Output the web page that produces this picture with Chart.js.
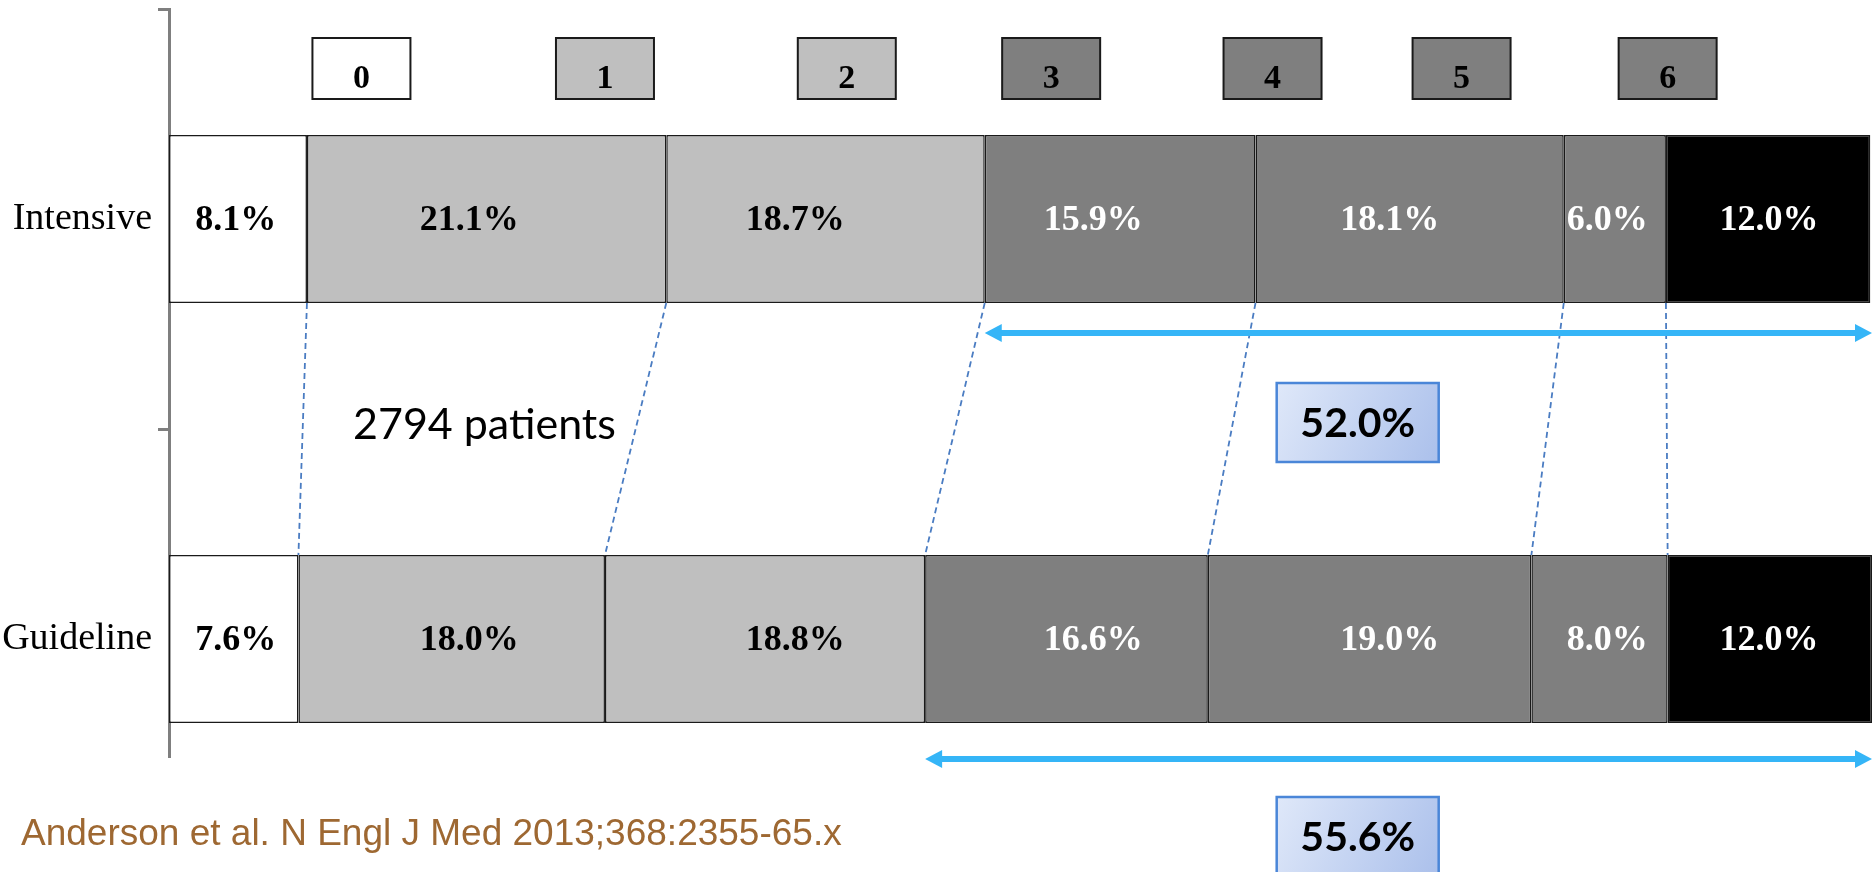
<!DOCTYPE html>
<html lang="en">
<head>
<meta charset="UTF-8">
<title>Intensive vs Guideline</title>
<script src="https://cdn.jsdelivr.net/npm/chart.js"></script>
<style>
  html, body { margin: 0; padding: 0; background: #fff; overflow: hidden; }
  .chart-box { position: relative; width: 1872px; height: 872px; }
</style>
</head>
<body>
<div class="chart-box"><canvas id="stageChart"></canvas></div>
<script>
const groups = ['Intensive', 'Guideline'];
const stages = ['0', '1', '2', '3', '4', '5', '6'];
const intensiveShare = [8.1, 21.1, 18.7, 15.9, 18.1, 6.0, 12.0];
const guidelineShare = [7.6, 18.0, 18.8, 16.6, 19.0, 8.0, 12.0];
const highStages = [3, 4, 5, 6];   // stages summed under the arrows
const patientsNote = '2794 patients';
const sourceNote = 'Anderson et al. N Engl J Med 2013;368:2355-65.x';

// look & layout
const stageFill = ['#ffffff', '#bfbfbf', '#bfbfbf', '#7f7f7f', '#7f7f7f', '#7f7f7f', '#000000'];
const legendFill = ['#ffffff', '#bfbfbf', '#bfbfbf', '#7f7f7f', '#7f7f7f', '#7f7f7f', '#7f7f7f'];
const stageInk = ['#000', '#000', '#000', '#fff', '#fff', '#fff', '#fff'];
const legendAt = [11.3, 25.6, 39.8, 51.8, 64.8, 75.9, 88.0];   // in x-axis units
const noteAt = 69.8;
const serif = '"Liberation Serif", "Times New Roman", serif';
const sans = 'Lato, "Open Sans", sans-serif';
const arrowBlue = '#35b5f7';

const legendBoxes = {
    id: 'legendBoxes',
    afterDatasetsDraw(chart) {
        const { ctx, chartArea, scales: { x } } = chart;
        const w = 98, h = 61, top = chartArea.top + 29;
        ctx.save();
        ctx.font = 'bold 34px ' + serif;
        ctx.textAlign = 'center';
        stages.forEach((s, i) => {
            const cx = x.getPixelForValue(legendAt[i]);
            ctx.fillStyle = legendFill[i];
            ctx.fillRect(cx - w / 2, top, w, h);
            ctx.lineWidth = 2;
            ctx.strokeStyle = '#1a1a1a';
            ctx.strokeRect(cx - w / 2, top, w, h);
            ctx.fillStyle = '#000';
            ctx.fillText(s, cx, top + 50);
        });
        ctx.restore();
    }
};

const segmentLabels = {
    id: 'segmentLabels',
    afterDatasetsDraw(chart) {
        const ctx = chart.ctx;
        ctx.save();
        ctx.font = 'bold 36px ' + serif;
        ctx.textAlign = 'center';
        ctx.textBaseline = 'middle';
        chart.data.datasets.forEach((ds, i) => {
            const bars = chart.getDatasetMeta(i).data;
            // one label column per stage, shared by both rows
            const col = bars.reduce((s, b) => s + (b.x + b.base) / 2, 0) / bars.length;
            bars.forEach((b, j) => {
                ctx.save();
                ctx.beginPath();
                ctx.rect(b.base, b.y - b.height / 2, b.x - b.base, b.height);
                ctx.clip();
                ctx.fillStyle = stageInk[i];
                ctx.fillText(ds.data[j].toFixed(1) + '%', col, b.y + 2);
                ctx.restore();
            });
        });
        ctx.restore();
    }
};

function drawArrow(ctx, x1, x2, y) {
    const head = 17, half = 9;
    ctx.strokeStyle = arrowBlue;
    ctx.fillStyle = arrowBlue;
    ctx.lineWidth = 6;
    ctx.beginPath();
    ctx.moveTo(x1 + head - 2, y);
    ctx.lineTo(x2 - head + 2, y);
    ctx.stroke();
    ctx.beginPath();
    ctx.moveTo(x1, y); ctx.lineTo(x1 + head, y - half); ctx.lineTo(x1 + head, y + half);
    ctx.closePath(); ctx.fill();
    ctx.beginPath();
    ctx.moveTo(x2, y); ctx.lineTo(x2 - head, y - half); ctx.lineTo(x2 - head, y + half);
    ctx.closePath(); ctx.fill();
}

function drawNote(ctx, cx, top, text) {
    const w = 162, h = 79, left = cx - w / 2;
    const g = ctx.createLinearGradient(left, top, left + w, top + h);
    g.addColorStop(0, '#dfe8f9');
    g.addColorStop(1, '#abc0eb');
    ctx.fillStyle = g;
    ctx.fillRect(left, top, w, h);
    ctx.strokeStyle = '#4a86d8';
    ctx.lineWidth = 2.5;
    ctx.strokeRect(left, top, w, h);
    ctx.fillStyle = '#000';
    ctx.font = 'bold 41px ' + sans;
    ctx.textAlign = 'center';
    ctx.textBaseline = 'middle';
    ctx.fillText(text, cx, top + h / 2 + 1);
}

const overlay = {
    id: 'overlay',
    afterDraw(chart) {
        const { ctx, chartArea, scales: { x } } = chart;
        const upper = i => chart.getDatasetMeta(i).data[0];
        const lower = i => chart.getDatasetMeta(i).data[1];
        const upBottom = upper(0).y + upper(0).height / 2;
        const lowTop = lower(0).y - lower(0).height / 2;
        const lowBottom = lower(0).y + lower(0).height / 2;
        const edge = Math.min(chartArea.right, chart.width);

        // dashed links between matching stage boundaries
        ctx.save();
        ctx.strokeStyle = '#4a7cc2';
        ctx.lineWidth = 1.8;
        ctx.setLineDash([6, 4]);
        for (let i = 0; i < stages.length - 1; i++) {
            ctx.beginPath();
            ctx.moveTo(upper(i).x, upBottom);
            ctx.lineTo(lower(i).x, lowTop);
            ctx.stroke();
        }
        ctx.restore();

        // arrows over the high stages, with their summed share
        const first = highStages[0];
        const sumOf = arr => highStages.reduce((s, k) => s + arr[k], 0).toFixed(1) + '%';
        ctx.save();
        drawArrow(ctx, upper(first).base, edge, upBottom + 30);
        drawArrow(ctx, lower(first).base, edge, lowBottom + 36);
        drawNote(ctx, x.getPixelForValue(noteAt), upBottom + 80, sumOf(intensiveShare));
        drawNote(ctx, x.getPixelForValue(noteAt), lowBottom + 74, sumOf(guidelineShare));
        ctx.restore();

        // patients count between the rows
        ctx.save();
        ctx.fillStyle = '#000';
        ctx.font = '43px ' + sans;
        ctx.textAlign = 'left';
        ctx.fillText(patientsNote, chartArea.left + 184, (upBottom + lowTop) / 2 + 10);
        ctx.restore();

        // source line sits on a white strip that hides the axis end
        ctx.save();
        ctx.font = '37px "Liberation Sans", Arial, sans-serif';
        const tw = ctx.measureText(sourceNote).width;
        ctx.fillStyle = '#fff';
        ctx.fillRect(0, lowBottom + 35, tw + 60, chart.height - lowBottom - 35);
        ctx.fillStyle = '#9e6832';
        ctx.textAlign = 'left';
        ctx.fillText(sourceNote, 21, 845);
        ctx.restore();
    }
};

const datasets = stages.map((s, i) => ({
    label: s,
    data: [intensiveShare[i], guidelineShare[i]],
    backgroundColor: stageFill[i],
    borderColor: '#1a1a1a',
    borderWidth: 1.5,
    borderSkipped: false,
    barPercentage: 0.4,
    categoryPercentage: 1.0
}));

new Chart(document.getElementById('stageChart'), {
    type: 'bar',
    data: { labels: groups, datasets },
    plugins: [legendBoxes, segmentLabels, overlay],
    options: {
        indexAxis: 'y',
        responsive: true,
        maintainAspectRatio: false,
        animation: false,
        layout: { padding: { top: 9, bottom: 23, left: 0, right: -3 } },
        plugins: { legend: { display: false }, tooltip: { enabled: false } },
        scales: {
            x: { stacked: true, min: 0, max: 100, display: false },
            y: {
                stacked: true,
                grid: {
                    drawOnChartArea: false,
                    drawTicks: true,
                    tickLength: 11,
                    color: '#7f7f7f',
                    lineWidth: 3,
                    offset: true
                },
                border: { display: true, color: '#7f7f7f', width: 3 },
                ticks: { color: '#000', padding: 6, font: { family: serif, size: 38 } },
                afterFit(scale) {
                    scale.width = 169;
                    // labels sit mid-row, so no extra room is needed above or below
                    scale.paddingTop = 0;
                    scale.paddingBottom = 0;
                }
            }
        }
    }
});
</script>
</body>
</html>
